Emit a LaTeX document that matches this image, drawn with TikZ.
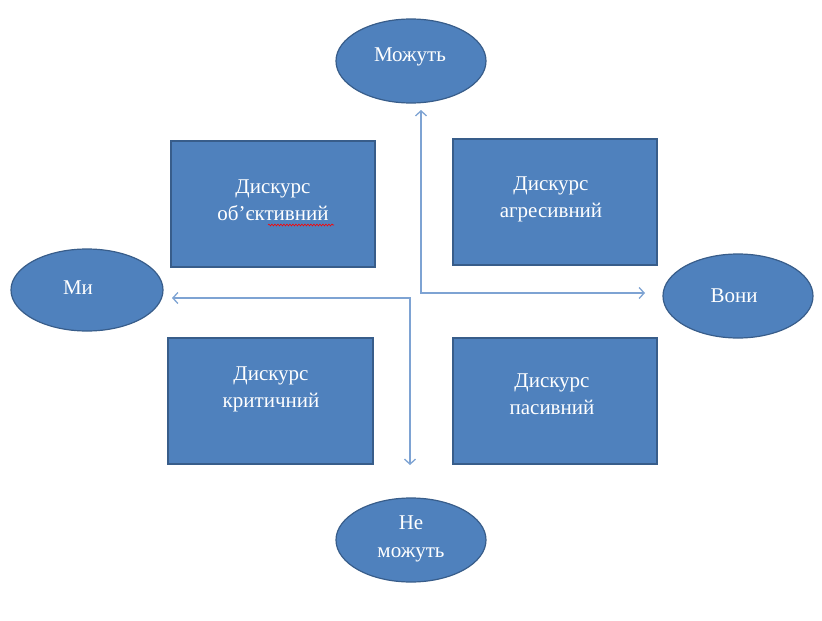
\documentclass[tikz,border=0pt]{standalone}
\usepackage{fontspec}
\setmainfont{Liberation Serif}
\usetikzlibrary{arrows.meta,decorations.pathmorphing}
\definecolor{boxfill}{HTML}{4F81BD}
\definecolor{boxline}{HTML}{385D8A}
\definecolor{arrowc}{HTML}{7EA3D3}
\begin{document}
\begin{tikzpicture}[x=1pt,y=-1pt,
  shapebox/.style={draw=boxline,line width=1.2pt,fill=boxfill},
  lbl/.style={text=white,align=center,font=\fontsize{21}{27}\selectfont,inner sep=0pt},
  conn/.style={draw=arrowc,line width=1.3pt,arrows={Straight Barb[length=5pt,width=11pt]-Straight Barb[length=5pt,width=11pt]}}]
\useasboundingbox (0,0) rectangle (822,621);
% ellipses
\draw[shapebox] (411,61) ellipse [x radius=75,y radius=42];
\node[lbl] (mozhut) at (410,57) {Можуть};
\draw[shapebox] (87,290) ellipse [x radius=76,y radius=41];
\node[lbl] (my) at (78,288) {Ми};
\draw[shapebox] (738,296) ellipse [x radius=75,y radius=42];
\node[lbl] (vony) at (734,296) {Вони};
\draw[shapebox] (411,540) ellipse [x radius=75,y radius=42];
\node[lbl,font=\fontsize{21}{28}\selectfont] (nemozhut) at (411,539) {Не\\можуть};
% rectangles
\draw[shapebox] (171,141) rectangle (375,267);
\node[lbl] (tl) at (273,200) {Дискурс\\об’єктивний};
\draw[red,line width=0.6pt,decorate,decoration={snake,amplitude=0.9pt,segment length=3pt}] (268,225) -- (334,225);
\draw[shapebox] (453,139) rectangle (657,265);
\node[lbl] (tr) at (551,199) {Дискурс\\агресивний};
\draw[shapebox] (168,338) rectangle (373,464);
\node[lbl] (bl) at (271,389) {Дискурс\\критичний};
\draw[shapebox] (453,338) rectangle (657,464);
\node[lbl] (br) at (552,394) {Дискурс\\пасивний};
% connectors
\coordinate (upEnd) at (421,110);
\coordinate (rightEnd) at (645,293);
\coordinate (leftEnd) at (172,298);
\coordinate (downEnd) at (410,465);
\draw[conn] (upEnd) |- (rightEnd);
\draw[conn] (leftEnd) -| (downEnd);
\end{tikzpicture}
\end{document}
